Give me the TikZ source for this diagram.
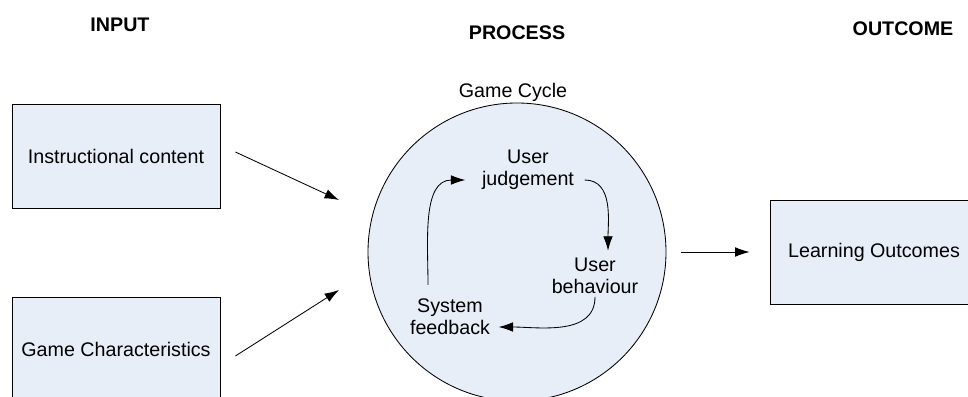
\documentclass[tikz,border=0pt]{standalone}
\usepackage{fontspec}
\setmainfont{Liberation Sans}
\usetikzlibrary{arrows.meta}
\definecolor{boxfill}{HTML}{E8EEF8}
\tikzset{
  blk/.style={draw, fill=boxfill, line width=.6pt, minimum width=5.2cm, minimum height=2.6cm},
  lab/.style={font=\fontsize{14}{15.6}\selectfont, align=center, inner sep=0pt},
  head/.style={font=\fontsize{14}{16}\selectfont\bfseries},
  arr/.style={-{Latex[length=3.6mm,width=2.4mm]}, line width=.6pt}
}
\begin{document}
\begin{tikzpicture}
    \clip (0,0) rectangle (24.2,9.9);
    \node[head] (hin) at (3,9.275) {INPUT};
    \node[head] (hproc) at (12.925,9.075) {PROCESS};
    \node[head] (hout) at (22.575,9.175) {OUTCOME};
    \node[blk, lab] (instr) at (2.9,6) {Instructional content};
    \node[blk, lab] (gchar) at (2.9,1.175) {Game Characteristics};
    \node[blk, lab] (learn) at (21.85,3.6) {Learning Outcomes};
    \node[draw, fill=boxfill, line width=.6pt, circle, minimum size=7.45cm] (cyc) at (12.925,3.6) {};
    \node[lab] (gcyc) at (12.825,7.6) {Game Cycle};
    \node[lab] (judg) at (13.2,5.65) {User\\judgement};
    \node[lab] (behav) at (14.875,3) {User\\behaviour};
    \node[lab] (feedb) at (11.25,1.975) {System\\feedback};
    \coordinate (in1) at (8.475,4.9);
    \coordinate (in2) at (8.475,2.65);
    \draw[arr] ([shift={(.375,.1)}]instr.east) -- (in1);
    \draw[arr] ([shift={(.375,-.175)}]gchar.east) -- (in2);
    \draw[arr] ([xshift=.375cm]cyc.east) -- ([xshift=-.5cm]learn.west);
    \draw[arr] ([shift={(.26,-.25)}]judg.east) to[out=0,in=90] ([shift={(.325,.18)}]behav.north);
    \draw[arr] ([yshift=-2pt]behav.south) to[out=-90,in=0] ([shift={(.21,-.25)}]feedb.east);
    \draw[arr] ([shift={(-.55,.35)}]feedb.north) to[out=90,in=180] ([shift={(-.41,-.25)}]judg.west);
\end{tikzpicture}
\end{document}
